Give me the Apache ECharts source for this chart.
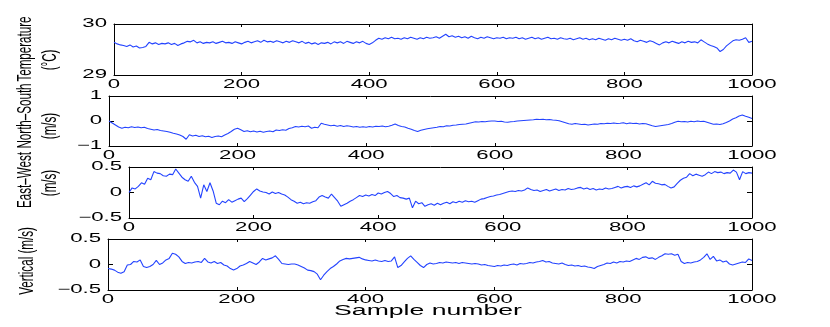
<!DOCTYPE html>
<html><head><meta charset="utf-8">
<script src="https://cdn.jsdelivr.net/npm/echarts@6/dist/echarts.min.js"></script>
<style>html,body{margin:0;padding:0;background:#fff;overflow:hidden}#c{width:830px;height:327px}</style>
</head><body><div id="c"></div><script>
// ---- data: one value every 5 samples (0..1000) ----
const SAMPLE_STEP = 5;
const temperature = [
29.64,29.61,29.59,29.58,29.56,29.59,29.55,29.57,29.53,29.54,
29.56,29.64,29.61,29.63,29.60,29.62,29.61,29.63,29.60,29.62,
29.58,29.61,29.63,29.66,29.65,29.68,29.63,29.65,29.62,29.64,
29.63,29.65,29.62,29.64,29.66,29.63,29.64,29.62,29.65,29.63,
29.61,29.64,29.66,29.63,29.65,29.67,29.64,29.68,29.65,29.66,
29.64,29.67,29.65,29.63,29.66,29.64,29.67,29.65,29.63,29.66,
29.62,29.64,29.61,29.63,29.60,29.63,29.62,29.64,29.61,29.65,
29.63,29.65,29.62,29.66,29.64,29.62,29.65,29.63,29.66,29.62,
29.60,29.63,29.68,29.72,29.70,29.73,29.71,29.74,29.71,29.72,
29.70,29.73,29.71,29.74,29.72,29.70,29.73,29.71,29.74,29.72,
29.73,29.75,29.72,29.76,29.80,29.75,29.77,29.74,29.76,29.73,
29.75,29.72,29.76,29.73,29.71,29.74,29.72,29.75,29.73,29.71,
29.73,29.72,29.74,29.71,29.73,29.72,29.74,29.71,29.73,29.70,
29.72,29.74,29.71,29.73,29.70,29.72,29.74,29.71,29.72,29.70,
29.73,29.71,29.70,29.72,29.69,29.71,29.73,29.70,29.72,29.69,
29.71,29.69,29.72,29.70,29.68,29.71,29.69,29.72,29.70,29.68,
29.70,29.68,29.71,29.67,29.65,29.68,29.66,29.64,29.67,29.65,
29.62,29.59,29.63,29.65,29.63,29.66,29.64,29.62,29.65,29.63,
29.66,29.64,29.65,29.63,29.69,29.65,29.61,29.58,29.56,29.53,
29.46,29.50,29.57,29.62,29.67,29.69,29.68,29.70,29.73,29.64,
29.66];
const northSouth = [
0.00,-0.08,-0.16,-0.24,-0.29,-0.25,-0.27,-0.23,-0.26,-0.24,
-0.27,-0.25,-0.30,-0.33,-0.36,-0.34,-0.38,-0.40,-0.42,-0.45,
-0.49,-0.52,-0.56,-0.62,-0.73,-0.55,-0.60,-0.57,-0.62,-0.59,
-0.63,-0.61,-0.66,-0.62,-0.60,-0.63,-0.56,-0.50,-0.42,-0.33,
-0.29,-0.35,-0.42,-0.39,-0.43,-0.40,-0.44,-0.41,-0.45,-0.42,
-0.40,-0.43,-0.36,-0.38,-0.35,-0.37,-0.30,-0.27,-0.22,-0.24,
-0.21,-0.23,-0.20,-0.29,-0.25,-0.27,-0.09,-0.13,-0.16,-0.19,
-0.17,-0.21,-0.18,-0.22,-0.19,-0.21,-0.24,-0.22,-0.25,-0.23,
-0.25,-0.22,-0.24,-0.21,-0.22,-0.20,-0.23,-0.21,-0.17,-0.12,
-0.18,-0.22,-0.24,-0.29,-0.33,-0.38,-0.42,-0.37,-0.34,-0.31,
-0.29,-0.27,-0.25,-0.22,-0.23,-0.19,-0.20,-0.17,-0.16,-0.14,
-0.13,-0.12,-0.09,-0.06,-0.03,-0.04,-0.02,-0.03,-0.01,0.00,
0.00,-0.02,-0.01,-0.04,-0.05,-0.03,-0.02,0.00,0.01,0.02,
0.03,0.04,0.05,0.07,0.06,0.07,0.05,0.06,0.04,0.03,
0.01,-0.03,-0.07,-0.11,-0.13,-0.10,-0.12,-0.14,-0.13,-0.16,
-0.14,-0.12,-0.13,-0.10,-0.11,-0.09,-0.10,-0.08,-0.10,-0.09,
-0.07,-0.11,-0.08,-0.10,-0.09,-0.12,-0.10,-0.11,-0.15,-0.19,
-0.22,-0.20,-0.18,-0.16,-0.14,-0.10,-0.05,-0.01,-0.03,-0.02,
-0.04,-0.01,-0.03,0.00,-0.02,-0.01,-0.05,-0.09,-0.13,-0.12,
-0.14,-0.11,-0.06,0.00,0.08,0.13,0.20,0.24,0.19,0.15,
0.10];
const eastWest = [
0.00,0.09,0.07,0.12,0.19,0.16,0.28,0.25,0.41,0.38,
0.37,0.33,0.32,0.36,0.35,0.46,0.38,0.30,0.25,0.22,
0.32,0.20,0.12,-0.11,0.15,0.02,0.19,0.03,-0.21,-0.24,
-0.17,-0.20,-0.14,-0.19,-0.16,-0.13,-0.11,-0.18,-0.12,-0.05,
0.02,0.07,0.03,0.01,0.00,-0.03,0.01,-0.02,0.00,-0.03,
-0.05,-0.09,-0.14,-0.17,-0.21,-0.19,-0.22,-0.20,-0.21,-0.18,
-0.16,-0.09,-0.06,-0.09,-0.11,-0.03,-0.10,-0.17,-0.27,-0.24,
-0.21,-0.17,-0.14,-0.10,-0.06,-0.08,-0.05,-0.07,-0.04,-0.06,
-0.01,-0.03,0.00,0.02,-0.02,-0.08,-0.06,-0.10,-0.11,-0.13,
-0.11,-0.30,-0.17,-0.22,-0.20,-0.27,-0.24,-0.22,-0.25,-0.21,
-0.24,-0.21,-0.19,-0.22,-0.18,-0.20,-0.17,-0.19,-0.16,-0.18,
-0.17,-0.19,-0.16,-0.13,-0.12,-0.10,-0.08,-0.07,-0.05,-0.04,
-0.02,0.00,0.02,0.03,0.02,0.04,0.03,0.05,0.09,0.06,
0.04,0.05,0.02,0.04,0.06,0.03,0.05,0.07,0.04,0.06,
0.05,0.08,0.06,0.07,0.09,0.10,0.07,0.09,0.06,0.08,
0.05,0.07,0.06,0.09,0.07,0.08,0.10,0.12,0.09,0.11,
0.12,0.10,0.13,0.11,0.13,0.16,0.19,0.15,0.22,0.18,
0.17,0.15,0.16,0.12,0.09,0.11,0.18,0.24,0.28,0.30,
0.37,0.33,0.36,0.34,0.32,0.35,0.40,0.37,0.41,0.39,
0.40,0.37,0.39,0.38,0.44,0.40,0.25,0.41,0.37,0.39,
0.38];
const vertical = [
-0.08,-0.09,-0.11,-0.15,-0.17,-0.14,-0.01,0.00,0.06,0.05,
0.09,-0.04,-0.06,-0.04,0.00,0.08,0.00,0.03,0.09,0.12,
0.22,0.20,0.15,0.06,0.02,0.04,0.03,0.05,0.06,0.04,
0.12,0.05,0.03,0.06,0.02,0.04,-0.01,-0.03,-0.08,-0.11,
-0.08,-0.03,-0.01,0.02,0.06,0.03,0.00,0.05,0.12,0.09,
0.11,0.13,0.17,0.10,0.02,0.01,0.00,0.01,0.01,-0.01,
-0.04,-0.07,-0.11,-0.12,-0.14,-0.19,-0.30,-0.21,-0.14,-0.08,
-0.04,0.01,0.07,0.10,0.12,0.11,0.12,0.13,0.14,0.11,
0.09,0.08,0.07,0.09,0.07,0.06,0.08,0.06,0.07,0.15,
-0.06,-0.02,0.05,0.12,0.17,0.10,0.04,-0.02,-0.06,0.00,
0.03,0.01,0.02,0.04,0.03,0.05,0.04,0.03,0.04,0.02,
0.04,0.03,0.02,0.01,0.02,0.01,-0.01,0.00,-0.02,-0.03,
-0.04,-0.02,-0.03,-0.01,-0.02,0.00,0.01,-0.01,0.02,0.01,
0.02,0.04,0.03,0.05,0.06,0.08,0.05,0.06,0.03,0.02,
0.01,0.03,0.00,-0.02,-0.01,-0.03,-0.02,-0.04,-0.03,-0.05,
-0.06,-0.08,-0.04,-0.02,0.00,0.03,0.02,0.05,0.03,0.06,
0.05,0.07,0.06,0.09,0.12,0.10,0.14,0.15,0.12,0.13,
0.10,0.14,0.17,0.21,0.20,0.21,0.18,0.20,0.06,0.02,
0.04,0.03,0.05,0.06,0.09,0.14,0.21,0.10,0.16,0.07,
0.09,0.05,0.07,0.01,-0.01,0.01,0.03,0.05,0.04,0.11,
0.08];

// ---- ticks and labels ----
const xTicks = [0, 200, 400, 600, 800, 1000];
const xTickLabels = ['0', '200', '400', '600', '800', '1000'];
const tempTicks = [29, 30];
const tempTickLabels = ['29', '30'];
const nsTicks = [-1, 0, 1];
const nsTickLabels = ['\u22121', '0', '1'];
const ewTicks = [-0.5, 0, 0.5];
const ewTickLabels = ['\u22120.5', '0', '0.5'];
const vTicks = [-0.5, 0, 0.5];
const vTickLabels = ['\u22120.5', '0', '0.5'];
const yTitles = [['Temperature', '(\u00B0C)'], ['North\u2013South', '(m/s)'], ['East\u2013West', '(m/s)'], ['Vertical (m/s)']];
const xTitle = 'Sample number';

// ---- layout / style ----
const LINE = '#2343ff';
const FONT = 'Liberation Sans';
const panels = [
  { left: 114, top: 24, height: 51, min: 29, max: 30, interval: 1, data: temperature, ticks: tempTicks, labels: tempTickLabels,
    titles: [{ x: 25, y: 49 }, { x: 50, y: 60 }] },
  { left: 109, top: 96, height: 50, min: -1, max: 1, interval: 1, data: northSouth, ticks: nsTicks, labels: nsTickLabels,
    titles: [{ x: 25, y: 116 }, { x: 50, y: 126 }] },
  { left: 129, top: 167, height: 51, min: -0.5, max: 0.5, interval: 0.5, data: eastWest, ticks: ewTicks, labels: ewTickLabels,
    titles: [{ x: 25, y: 180 }, { x: 50, y: 183 }] },
  { left: 108, top: 239, height: 51, min: -0.5, max: 0.5, interval: 0.5, data: vertical, ticks: vTicks, labels: vTickLabels,
    titles: [{ x: 27, y: 261 }] }
];
const RIGHT = 78;

const chart = echarts.init(document.getElementById('c'), null, { renderer: 'canvas' });
const grid = [], xAxis = [], yAxis = [], series = [];
const axLine = { show: true, onZero: false, lineStyle: { color: '#000', width: 1 } };
panels.forEach((p, i) => {
  grid.push({ left: p.left, right: RIGHT, top: p.top, height: p.height, outerBoundsMode: 'none', containLabel: false });
  ['bottom', 'top'].forEach(pos => xAxis.push({
    gridIndex: i, type: 'value', min: 0, max: 1000, interval: 200, position: pos,
    axisLine: axLine, axisTick: { show: true, inside: true, length: 3, lineStyle: { color: '#000', width: 1 } },
    axisLabel: { show: false }, splitLine: { show: false }
  }));
  ['left', 'right'].forEach(pos => yAxis.push({
    gridIndex: i, type: 'value', min: p.min, max: p.max, interval: p.interval, position: pos,
    axisLine: axLine, axisTick: { show: true, inside: true, length: 5, lineStyle: { color: '#000', width: 1 } },
    axisLabel: { show: false }, splitLine: { show: false }
  }));
  series.push({
    type: 'line', xAxisIndex: 2 * i, yAxisIndex: 2 * i, symbol: 'none', showSymbol: false,
    data: p.data.map((v, k) => [k * SAMPLE_STEP, v]),
    lineStyle: { color: LINE, width: 1.1 }, itemStyle: { color: LINE }, animation: false, z: 1
  });
});
chart.setOption({ animation: false, backgroundColor: '#fff', grid, xAxis, yAxis, series });

function txt(text, x, y, opt) {
  return Object.assign({
    type: 'text', x, y, z: 100, silent: true,
    style: { text, fill: '#000', fontFamily: FONT, fontSize: opt.fontSize,
      align: opt.align, verticalAlign: 'middle', textAlign: opt.align, textVerticalAlign: 'middle' }
  }, opt.extra || {});
}
const graphic = [];
panels.forEach((p, i) => {
  const bottom = p.top + p.height;
  xTicks.forEach((v, k) => {
    const px = chart.convertToPixel({ xAxisIndex: 2 * i }, v);
    graphic.push(txt(xTickLabels[k], px, bottom + 10, { fontSize: 12, align: 'center', extra: { scaleX: 1.85 } }));
  });
  p.ticks.forEach((v, k) => {
    const py = chart.convertToPixel({ yAxisIndex: 2 * i }, v);
    graphic.push(txt(p.labels[k], p.left - 7, py, { fontSize: 12, align: 'right', extra: { scaleX: 1.85 } }));
  });
  yTitles[i].forEach((t, k) => {
    const pos = p.titles[k];
    graphic.push(txt(t, pos.x, pos.y, { fontSize: 20, align: 'center', extra: { rotation: Math.PI / 2, scaleX: 0.58 } }));
  });
});
graphic.push(txt(xTitle, 428, 311, { fontSize: 14, align: 'center', extra: { scaleX: 1.9 } }));
chart.setOption({ graphic });
</script></body></html>
